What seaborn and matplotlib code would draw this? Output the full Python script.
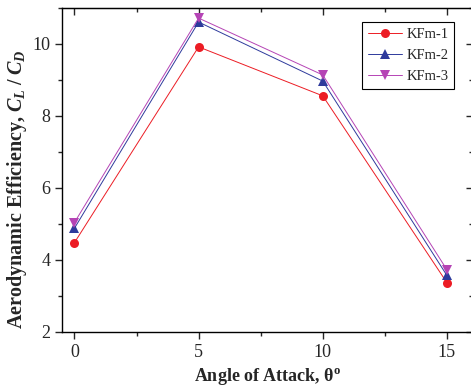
import matplotlib
matplotlib.use("Agg")
import matplotlib.pyplot as plt
from matplotlib.ticker import MultipleLocator
import seaborn as sns
import pandas as pd

angles = [0, 5, 10, 15]
kfm1 = [4.48, 9.92, 8.56, 3.37]
kfm2 = [4.88, 10.61, 8.97, 3.57]
kfm3 = [5.04, 10.72, 9.14, 3.73]
series_names = ["KFm-1", "KFm-2", "KFm-3"]
colors = ["#ec1c24", "#2e3a9c", "#b544b5"]
markers = ["o", "^", "v"]

rows = []
for name, vals in zip(series_names, [kfm1, kfm2, kfm3]):
    for a, v in zip(angles, vals):
        rows.append({"angle": a, "eff": v, "series": name})
df = pd.DataFrame(rows)

sns.set_style("ticks")
plt.rcParams["font.family"] = ["Liberation Serif", "DejaVu Serif"]
plt.rcParams["mathtext.fontset"] = "custom"
plt.rcParams["mathtext.it"] = "Liberation Serif:italic:bold"
plt.rcParams["mathtext.rm"] = "Liberation Serif:bold"
plt.rcParams["mathtext.bf"] = "Liberation Serif:bold"

fig = plt.figure(figsize=(4.71, 3.90), dpi=100)
L, R, T, B = 62, 473, 8, 332
ax = fig.add_axes([L / 471, 1 - B / 390, (R - L) / 471, (B - T) / 390])

sns.lineplot(data=df, x="angle", y="eff", hue="series", style="series",
             palette=dict(zip(series_names, colors)),
             markers=dict(zip(series_names, markers)), dashes=False,
             linewidth=0.7, markersize=6.5, markeredgewidth=0, ax=ax)

ax.set_xlim(-0.5, 16.05)
ax.set_ylim(2, 11)
ax.xaxis.set_major_locator(MultipleLocator(5))
ax.xaxis.set_minor_locator(MultipleLocator(2.5))
ax.yaxis.set_major_locator(MultipleLocator(2))
ax.yaxis.set_minor_locator(MultipleLocator(1))
ax.tick_params(axis="both", which="major", labelsize=13, length=5, width=1, direction="out")
ax.tick_params(axis="both", which="minor", length=3, width=1, direction="out")
for s in ax.spines.values():
    s.set_linewidth(1.0)
    s.set_color("black")

# mirrored inward ticks on top and right
top = ax.secondary_xaxis("top")
top.xaxis.set_major_locator(MultipleLocator(5))
top.xaxis.set_minor_locator(MultipleLocator(2.5))
top.tick_params(which="major", direction="in", length=5, width=1, labeltop=False)
top.tick_params(which="minor", direction="in", length=3, width=1)
right = ax.secondary_yaxis("right")
right.yaxis.set_major_locator(MultipleLocator(2))
right.yaxis.set_minor_locator(MultipleLocator(1))
right.tick_params(which="major", direction="in", length=5, width=1, labelright=False)
right.tick_params(which="minor", direction="in", length=3, width=1)

ax.set_xlabel("Angle of Attack, θ$^{\\mathrm{o}}$", fontsize=13, fontweight="bold")
ax.set_ylabel("Aerodynamic Efficiency, $C_L\\;/\\;C_D$", fontsize=14.5, fontweight="bold")
ax.yaxis.set_label_coords(-0.08, 0.44)

leg = ax.legend(loc="upper right", bbox_to_anchor=(0.954, 0.957), fontsize=10.5,
                frameon=True, fancybox=False, edgecolor="black", framealpha=1,
                handlelength=2.3, borderpad=0.4, labelspacing=0.55, handletextpad=0.3,
                borderaxespad=0)
leg.get_frame().set_linewidth(0.8)

fig.savefig("out.png", dpi=100)
